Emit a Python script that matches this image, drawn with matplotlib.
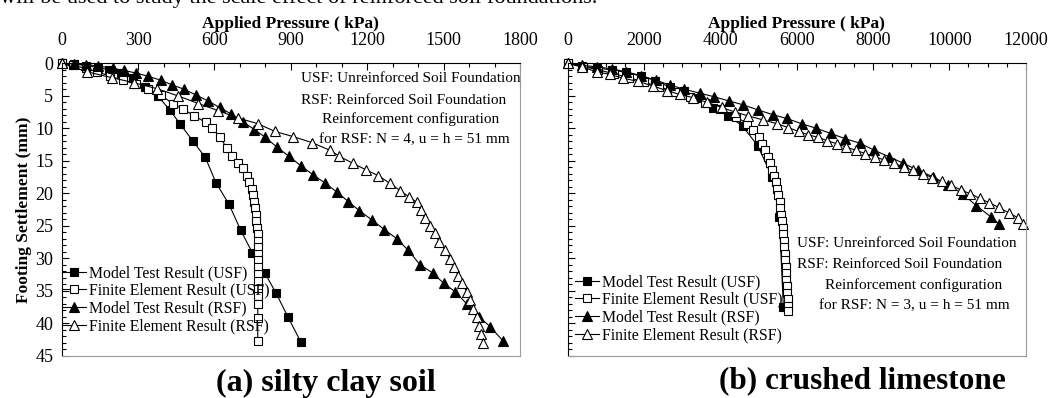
import matplotlib
matplotlib.use("Agg")
import matplotlib.pyplot as plt
from matplotlib.ticker import MultipleLocator

plt.rcParams["font.family"] = ["Liberation Serif", "DejaVu Serif"]

W, H = 1052, 398

# (a) silty clay soil
a_usf_test_p = [0, 47, 95, 141, 186, 232, 279, 327, 377, 425, 466, 514, 564, 606, 657, 703, 749, 798, 842, 889, 939]
a_usf_test_s = [0, 0.1, 0.35, 0.65, 1.0, 1.5, 2.3, 3.6, 5.0, 7.2, 9.4, 11.9, 14.5, 18.4, 21.7, 25.7, 29.2, 32.3, 35.4, 39.1, 42.9]
a_usf_fe_p = [0, 45, 95, 140, 190, 240, 290, 340, 390, 439, 478, 521, 566, 590, 622, 648, 670, 691, 711, 727,
              737, 746, 753, 756, 759, 762, 765, 768, 770, 771, 772, 772, 772, 772, 772, 771, 771, 771, 770, 770, 770]
a_usf_fe_s = [0, 0.3, 0.8, 1.3, 2.0, 2.6, 3.2, 4.0, 4.9, 6.3, 7.1, 8.1, 9.1, 10.0, 11.3, 13.1, 14.2, 15.3, 16.2, 17.3,
              18.3, 19.4, 20.3, 21.3, 22.3, 23.3, 24.3, 25.3, 26.3, 27.3, 28.3, 29.3, 30.3, 31.4, 32.5, 33.6, 34.7, 35.8, 37.0, 39.2, 42.7]
a_rsf_test_p = [0, 47, 95, 141, 203, 245, 292, 340, 389, 432, 481, 528, 575, 620, 665, 711, 757, 800, 845, 892,
                940, 988, 1033, 1080, 1126, 1169, 1218, 1267, 1316, 1361, 1407, 1457, 1501, 1546, 1592, 1638, 1684, 1734]
a_rsf_test_s = [0, 0.1, 0.2, 0.4, 0.8, 1.1, 1.5, 2.0, 2.6, 3.3, 4.0, 4.9, 5.8, 6.8, 7.8, 9.0, 10.2, 11.4, 12.9, 14.3,
                15.8, 17.2, 18.4, 19.8, 21.3, 22.7, 24.1, 25.6, 27.0, 28.8, 31.0, 32.3, 33.9, 35.2, 37.1, 39.0, 40.6, 42.8]
a_rsf_fe_p = [0, 98, 196, 285, 373, 456, 537, 615, 691, 770, 838, 910, 982, 1054, 1090, 1143, 1195, 1243, 1290, 1329,
              1365, 1394, 1410, 1427, 1447, 1466, 1483, 1506, 1525, 1541, 1558, 1574, 1591, 1604, 1617, 1630, 1639, 1647, 1654]
a_rsf_fe_s = [0, 1.3, 2.2, 3.0, 3.9, 5.0, 6.2, 7.3, 8.4, 9.3, 10.5, 11.3, 12.2, 13.4, 14.3, 15.4, 16.4, 17.3, 18.5, 19.6,
              20.6, 21.4, 22.6, 23.9, 25.0, 26.2, 27.5, 28.8, 30.1, 31.4, 32.7, 33.9, 35.2, 36.5, 37.8, 39.1, 40.4, 41.7, 43.0]

# (b) crushed limestone
b_usf_test_p = [0, 380, 757, 1150, 1527, 1915, 2300, 2680, 3057, 3445, 3815, 4210, 4585, 4980, 5358, 5545, 5650]
b_usf_test_s = [0, 0.4, 0.75, 1.0, 1.4, 1.95, 2.65, 3.7, 4.3, 5.3, 6.9, 8.05, 9.7, 12.7, 17.5, 23.6, 37.5]
b_usf_fe_p = [0, 400, 800, 1200, 1600, 2000, 2400, 2800, 3200, 3600, 4000, 4400, 4700, 4860, 5000, 5100, 5170, 5240,
              5300, 5360, 5410, 5450, 5490, 5520, 5550, 5570, 5590, 5610, 5630, 5645, 5660, 5675, 5690, 5700, 5710,
              5720, 5730, 5740, 5750, 5760, 5770, 5780]
b_usf_fe_s = [0, 0.5, 1.0, 1.6, 2.2, 2.9, 3.6, 4.4, 5.2, 6.1, 7.1, 8.2, 9.3, 10.3, 11.4, 12.4, 13.4, 14.4, 15.4, 16.4,
              17.3, 18.3, 19.3, 20.3, 21.3, 22.3, 23.3, 24.3, 25.3, 26.3, 27.3, 28.3, 29.3, 30.3, 31.3, 32.3, 33.3,
              34.3, 35.3, 36.3, 37.3, 38.1]
b_rsf_test_p = [0, 380, 757, 1150, 1530, 1920, 2310, 2680, 3057, 3460, 3833, 4226, 4600, 4994, 5371, 5738, 6130, 6505,
                6890, 7265, 7658, 8033, 8425, 8793, 9186, 9580, 9971, 10350, 10700, 11100, 11300]
b_rsf_test_s = [0, 0.3, 0.55, 0.85, 1.3, 1.9, 2.6, 3.35, 4.0, 4.6, 5.15, 5.8, 6.4, 7.2, 7.9, 8.5, 9.3, 10.0, 10.8, 11.6,
                12.3, 13.4, 14.4, 15.4, 16.5, 17.5, 18.8, 20.1, 21.9, 23.7, 24.8]
b_rsf_fe_p = [0, 380, 757, 1100, 1460, 1850, 2240, 2590, 2940, 3290, 3640, 4030, 4380, 4730, 5110, 5480, 5780, 6050,
              6300, 6550, 6800, 7050, 7300, 7550, 7800, 8050, 8300, 8550, 8800, 9050, 9300, 9550, 9800, 10050, 10300,
              10550, 10800, 11050, 11300, 11550, 11800, 11920]
b_rsf_fe_s = [0, 0.6, 1.3, 1.7, 2.3, 2.8, 3.5, 4.2, 4.8, 5.3, 6.0, 6.8, 7.5, 8.1, 8.7, 9.3, 9.9, 10.5, 11.0, 11.4,
              11.9, 12.4, 12.9, 13.4, 13.9, 14.4, 14.9, 15.4, 16.0, 16.5, 17.0, 17.6, 18.2, 18.8, 19.5, 20.1, 20.8,
              21.5, 22.2, 23.0, 23.8, 24.7]

labels = ["Model Test Result (USF)", "Finite Element Result (USF)",
          "Model Test Result (RSF)", "Finite Element Result (RSF)"]
notes_a = ["USF: Unreinforced Soil Foundation", "RSF: Reinforced Soil Foundation",
           "Reinforcement configuration", "for RSF: N = 4, u = h = 51 mm"]
notes_b = ["USF: Unreinforced Soil Foundation", "RSF: Reinforced Soil Foundation",
           "Reinforcement configuration", "for RSF: N = 3, u = h = 51 mm"]


def fx(x):
    return x / W


def fy(y):
    return 1 - y / H


def draw_series(ax, data):
    styles = [dict(marker="s", mfc="black", ms=5.5),
              dict(marker="s", mfc="white", ms=5.5),
              dict(marker="^", mfc="black", ms=6.5),
              dict(marker="^", mfc="white", ms=6.5)]
    for (p, s), st, lab in zip(data, styles, labels):
        ax.plot(p, s, color="black", lw=0.8, mec="black", mew=0.8, label=lab, clip_on=False, **st)


def style_axis(ax, xmax, xmaj, xmin, ylabels=True):
    ax.set_xlim(0, xmax)
    ax.set_ylim(45, 0)
    ax.xaxis.set_major_locator(MultipleLocator(xmaj))
    ax.xaxis.set_minor_locator(MultipleLocator(xmin))
    ax.yaxis.set_major_locator(MultipleLocator(5))
    ax.yaxis.set_minor_locator(MultipleLocator(1))
    ax.xaxis.tick_top()
    ax.xaxis.set_label_position("top")
    ax.tick_params(which="both", direction="in", top=True, bottom=False, left=True, right=False,
                   labelsize=13, pad=10)
    ax.tick_params(which="major", length=5, width=0.8)
    ax.tick_params(which="minor", length=3, width=0.8)
    ax.tick_params(axis="y", which="major", pad=6)
    ax.tick_params(labelleft=ylabels)
    for side in ("bottom", "right"):
        ax.spines[side].set_color("#9a9a9a")
    ax.set_xlabel("Applied Pressure ( kPa)", fontsize=12.5, fontweight="bold", labelpad=3)


fig = plt.figure(figsize=(W / 100, H / 100), dpi=100)
ax1 = fig.add_axes([fx(61.7), fy(355.5), fx(520 - 61.7), (355.5 - 63.3) / H])
ax2 = fig.add_axes([fx(567.7), fy(355.5), fx(1025.7 - 567.7), (355.5 - 63.3) / H])

draw_series(ax1, [(a_usf_test_p, a_usf_test_s), (a_usf_fe_p, a_usf_fe_s),
                  (a_rsf_test_p, a_rsf_test_s), (a_rsf_fe_p, a_rsf_fe_s)])
draw_series(ax2, [(b_usf_test_p, b_usf_test_s), (b_usf_fe_p, b_usf_fe_s),
                  (b_rsf_test_p, b_rsf_test_s), (b_rsf_fe_p, b_rsf_fe_s)])

style_axis(ax1, 1800, 300, 100)
style_axis(ax2, 12000, 2000, 500, ylabels=False)
ax1.set_ylabel("Footing Settlement (mm)", fontsize=12.5, fontweight="bold", labelpad=2)

leg_kw = dict(loc="upper left", frameon=False, fontsize=11.3, borderpad=0, borderaxespad=0,
              handlelength=1.5, handletextpad=0.2, labelspacing=0.12, bbox_transform=fig.transFigure)
ax1.legend(bbox_to_anchor=(fx(62), fy(265)), **leg_kw)
ax2.legend(bbox_to_anchor=(fx(575), fy(274)), **leg_kw)

# annotation blocks
fig.text(fx(301), fy(78.3), notes_a[0], fontsize=11, va="center", ha="left")
fig.text(fx(301), fy(100), notes_a[1], fontsize=11, va="center", ha="left")
fig.text(fx(411), fy(119), notes_a[2], fontsize=11, va="center", ha="center")
fig.text(fx(414), fy(140), notes_a[3], fontsize=11, va="center", ha="center")

fig.text(fx(797), fy(243.3), notes_b[0], fontsize=11, va="center", ha="left")
fig.text(fx(797), fy(265), notes_b[1], fontsize=11, va="center", ha="left")
fig.text(fx(914), fy(285), notes_b[2], fontsize=11, va="center", ha="center")
fig.text(fx(914), fy(306), notes_b[3], fontsize=11, va="center", ha="center")

fig.text(fx(326), fy(383), "(a) silty clay soil", fontsize=23, fontweight="bold", ha="center", va="center")
fig.text(fx(862), fy(381), "(b) crushed limestone", fontsize=22.5, fontweight="bold", ha="center", va="center")

# clipped line of body text above the figure
fig.text(0, fy(3), "will be used to study the scale effect of reinforced soil foundations.",
         fontsize=16, ha="left", va="baseline")

fig.savefig("out.png", dpi=100)
